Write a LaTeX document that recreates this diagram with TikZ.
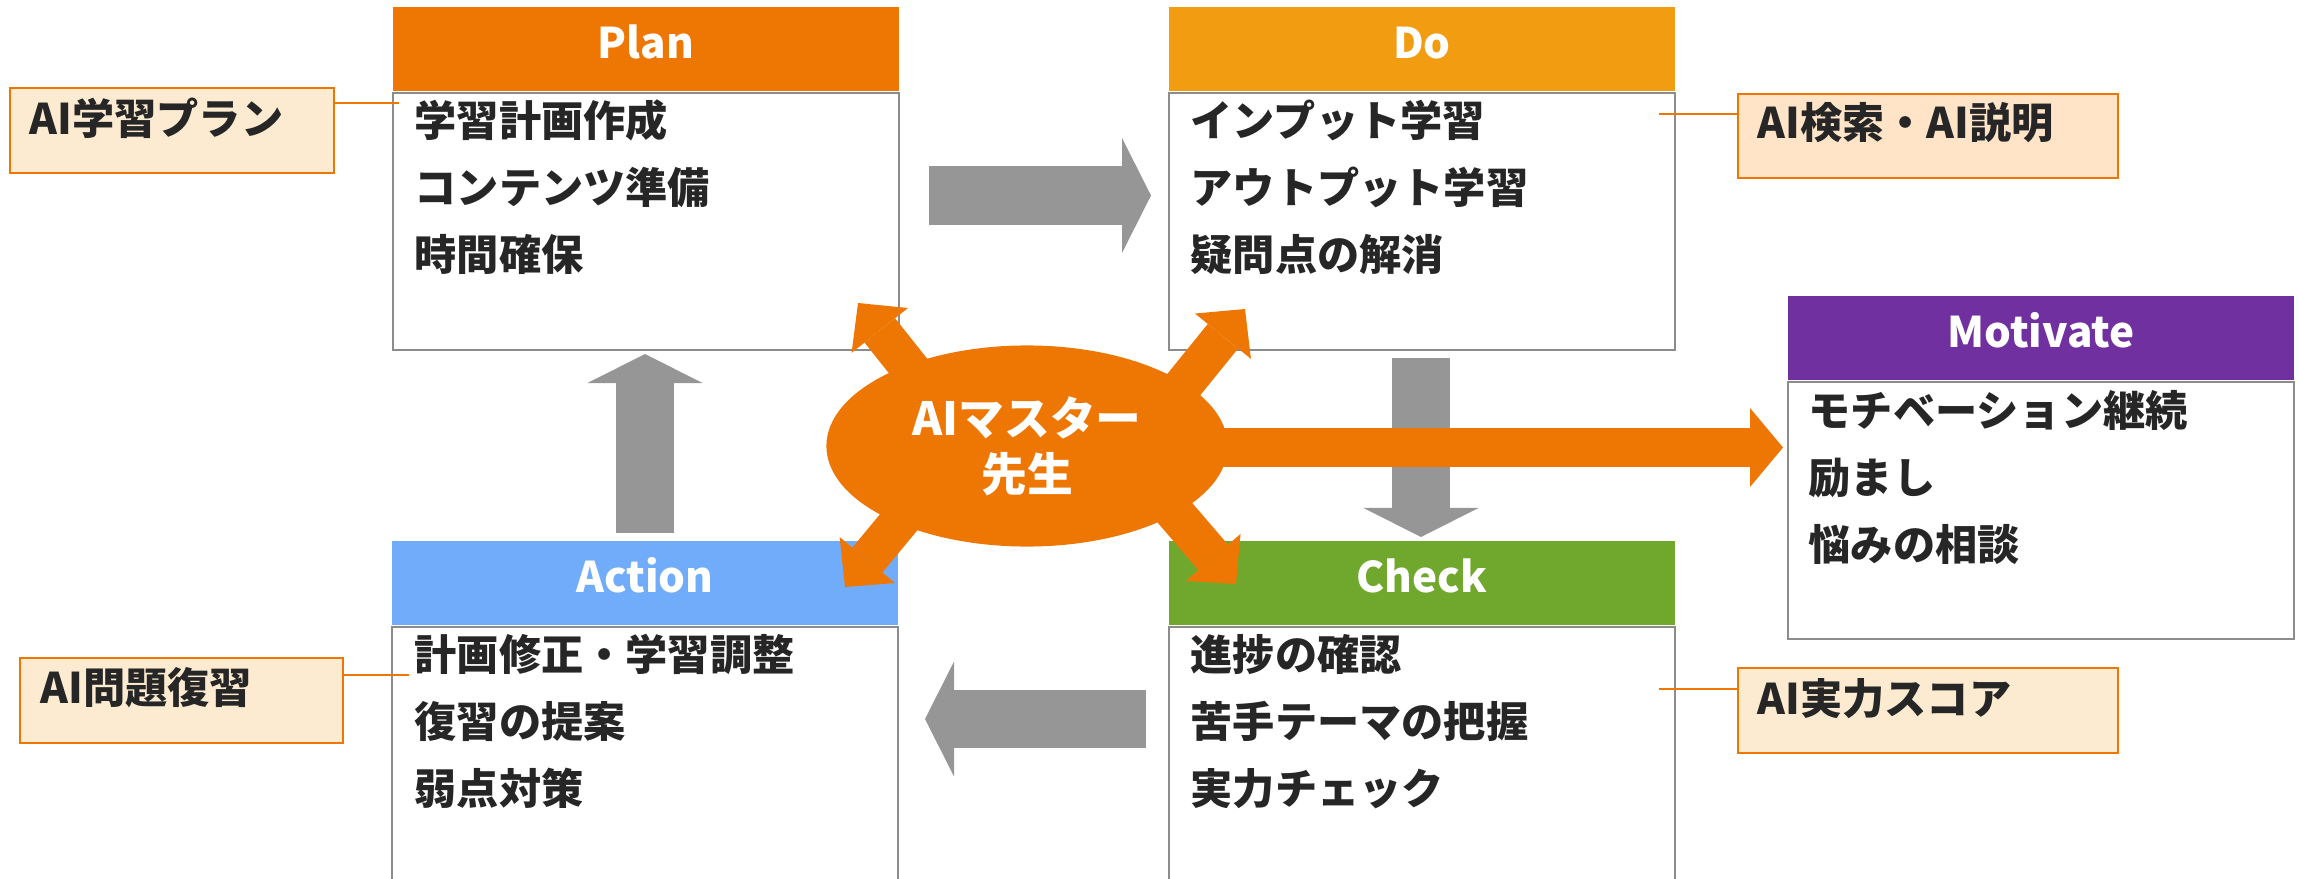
\documentclass[tikz,border=0pt]{standalone}
\usepackage{fontspec}
\setmainfont{Noto Sans CJK JP}
\usetikzlibrary{shapes.geometric,arrows.meta}
\definecolor{plancol}{HTML}{EE7703}
\definecolor{docol}{HTML}{F29C12}
\definecolor{checkcol}{HTML}{70A82E}
\definecolor{actcol}{HTML}{71ACFA}
\definecolor{motcol}{HTML}{7030A0}
\definecolor{flowgray}{HTML}{969696}
\definecolor{boxgray}{HTML}{8C8C8C}
\definecolor{notecol}{HTML}{EE7703}
\definecolor{notefill}{HTML}{FCEBD0}
\definecolor{notefilldo}{HTML}{FFE4C8}
\definecolor{ink}{HTML}{262626}

\begin{document}
\begin{tikzpicture}[x=0.01cm,y=-0.01cm,
  phasehead/.style={minimum width=5.06cm,minimum height=0.84cm,inner sep=0,text=white,font=\fontsize{12}{14}\selectfont\bfseries,text height=0.31cm,text depth=0.12cm},
  phasebody/.style={draw=boxgray,line width=0.02cm,minimum width=5.06cm,minimum height=2.57cm,inner sep=0,anchor=north},
  phaseitems/.style={anchor=base west,align=left,inner sep=0,text=ink,font=\fontsize{12}{19}\selectfont\bfseries},
  aibox/.style={draw=notecol,line width=0.022cm,fill=notefill,anchor=north west,inner sep=0},
  aitext/.style={anchor=west,inner sep=0,text=ink,font=\fontsize{12}{14}\selectfont\bfseries},
  ailink/.style={draw=notecol,line width=0.02cm},
  cyclearrow/.style={draw=flowgray,line width=0.58cm,-{Triangle[width=1.15cm,length=0.29cm,line width=0pt]}},
  spoke/.style={draw=plancol,line width=0.39cm,-{Triangle[width=0.72cm,length=0.35cm,line width=0pt]}}]
\useasboundingbox (0,0) rectangle (2300,879);
\clip (0,0) rectangle (2300,879);

% AI helpers
\node [aibox,minimum width=3.24cm,minimum height=0.85cm] (cplan) at (9,87) {};
\node [aitext] (cplantext) at (29,118) {AI学習プラン};
\node [aibox,fill=notefilldo,minimum width=3.80cm,minimum height=0.84cm] (cdo) at (1737,93) {};
\node [aitext] (cdotext) at (1757,123) {AI検索・AI説明};
\node [aibox,minimum width=3.23cm,minimum height=0.85cm] (cact) at (19,657) {};
\node [aitext] (cacttext) at (40,688) {AI問題復習};
\node [aibox,minimum width=3.80cm,minimum height=0.85cm] (ccheck) at (1737,667) {};
\node [aitext] (cchecktext) at (1757,699) {AI実力スコア};

% PDCA + motivate (items: base = last line)
\node [phasehead,fill=plancol] (plan) at (646,49) {Plan};
\node [phasebody] (planbody) at (plan.south) {};
\node [phaseitems] (planitems) at (414,270) {学習計画作成\\コンテンツ準備\\時間確保};
\node [phasehead,fill=docol] (do) at (1422,49) {Do};
\node [phasebody] (dobody) at (do.south) {};
\node [phaseitems] (doitems) at (1190,270) {インプット学習\\アウトプット学習\\疑問点の解消};
\node [phasehead,fill=motcol] (mot) at (2041,338) {Motivate};
\node [phasebody] (motbody) at (mot.south) {};
\node [phaseitems] (motitems) at (1808,560) {モチベーション継続\\励まし\\悩みの相談};
\node [phasehead,fill=actcol] (act) at (645,583) {Action};
\node [phasebody,minimum height=2.7cm] (actbody) at (act.south) {};
\node [phaseitems] (actitems) at (414,804) {計画修正・学習調整\\復習の提案\\弱点対策};
\node [phasehead,fill=checkcol] (check) at (1422,583) {Check};
\node [phasebody,minimum height=2.7cm] (checkbody) at (check.south) {};
\node [phaseitems] (checkitems) at (1190,804) {進捗の確認\\苦手テーマの把握\\実力チェック};

% links
\coordinate (planlink) at (399,103);
\draw [ailink] (cplan.east |- planlink) -- (planlink);
\coordinate (dolink) at (1659,114);
\draw [ailink] (dolink) -- (cdo.west |- dolink);
\coordinate (actlink) at (409,675);
\draw [ailink] (cact.east |- actlink) -- (actlink);
\coordinate (checklink) at (1659,689);
\draw [ailink] (checklink) -- (ccheck.west |- checklink);

% cycle
\coordinate (pd0) at (929,195.5);
\coordinate (pd1) at (1151,195.5);
\draw [cyclearrow] (pd0) -- (pd1);
\coordinate (dc0) at (1421,358);
\coordinate (dc1) at (1421,537);
\draw [cyclearrow] (dc0) -- (dc1);
\coordinate (ca0) at (1146,719);
\coordinate (ca1) at (925,719);
\draw [cyclearrow] (ca0) -- (ca1);
\coordinate (ap0) at (645,533);
\coordinate (ap1) at (645,354);
\draw [cyclearrow] (ap0) -- (ap1);

% teacher spokes
\coordinate (ul0) at (982,459);
\coordinate (ul1) at (858,303);
\draw [spoke] (ul0) -- (ul1);
\coordinate (ur0) at (1087,504);
\coordinate (ur1) at (1245,309);
\draw [spoke] (ur0) -- (ur1);
\coordinate (ll0) at (1005,394);
\coordinate (ll1) at (845,587);
\draw [spoke] (ll0) -- (ll1);
\coordinate (lr0) at (1073,394);
\coordinate (lr1) at (1236,584);
\draw [spoke] (lr0) -- (lr1);
\coordinate (mv0) at (1100,447.5);
\coordinate (mv1) at (1783,447.5);
\draw [spoke,-{Triangle[width=0.79cm,length=0.33cm,line width=0pt]}] (mv0) -- (mv1);

\node [ellipse,fill=plancol,minimum width=4.01cm,minimum height=2.01cm,inner sep=0,align=center,text=white,font=\fontsize{13}{16}\selectfont\bfseries] (sensei) at (1027,446) {AIマスター\\先生};
\end{tikzpicture}
\end{document}
